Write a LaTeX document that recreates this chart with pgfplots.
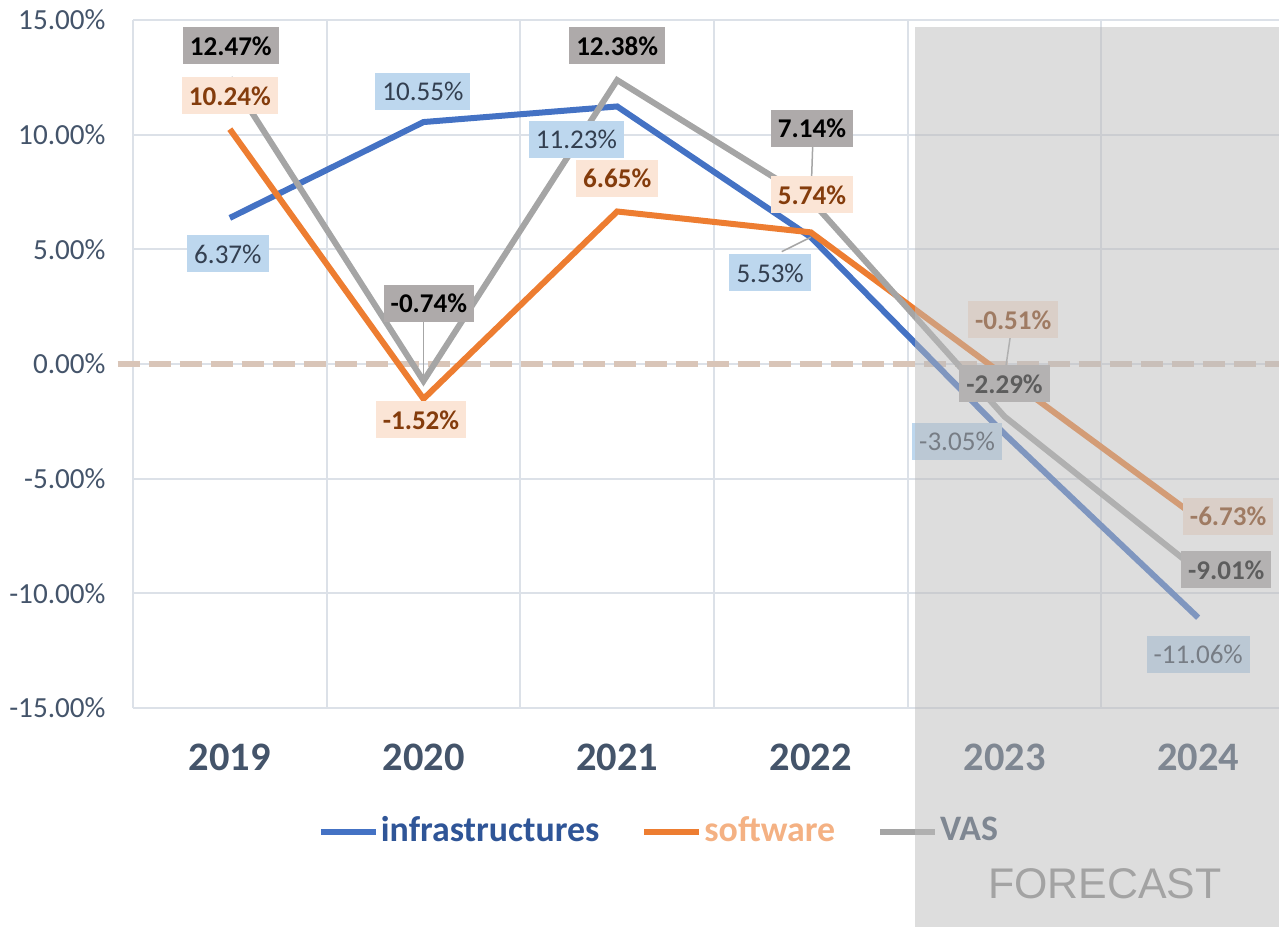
\documentclass[border=0pt]{standalone}
\usepackage{pgfplots}
\pgfplotsset{compat=1.18}
\usepackage{fontspec}
\setmainfont{Carlito}
\newfontfamily\arialfont{Liberation Sans}

\definecolor{infra}{HTML}{4472C4}
\definecolor{soft}{HTML}{ED7D31}
\definecolor{vas}{HTML}{A5A5A5}
\definecolor{gridc}{HTML}{DCE1E8}
\definecolor{zeroc}{HTML}{D9C5B8}
\definecolor{tickc}{HTML}{44546A}
\definecolor{infraL}{HTML}{BDD7EE}
\definecolor{infraT}{HTML}{333F50}
\definecolor{softL}{HTML}{FBE5D6}
\definecolor{softT}{HTML}{843C0C}
\definecolor{vasL}{HTML}{AEAAAA}
\definecolor{legI}{HTML}{2F5597}
\definecolor{legS}{HTML}{F4B183}
\definecolor{fcast}{HTML}{BBBBBB}
\definecolor{fctext}{HTML}{A3A3A3}

\tikzset{
  lab/.style={inner xsep=0.07cm, inner ysep=0pt, minimum height=0.37cm,
    font=\fontsize{7.7}{8}\selectfont},
  labI/.style={lab, fill=infraL, text=infraT},
  labS/.style={lab, fill=softL, text=softT, font=\bfseries\fontsize{7.7}{8}\selectfont},
  labV/.style={lab, fill=vasL, text=black, font=\bfseries\fontsize{7.7}{8}\selectfont},
  lead/.style={draw=black!35, line width=0.015cm}
}

\begin{document}
\begin{tikzpicture}
\useasboundingbox (0,0) rectangle (12.79,9.26);
\begin{axis}[
  at={(1.33cm,2.18cm)}, anchor=south west,
  scale only axis, width=11.62cm, height=6.88cm,
  xmin=-0.5, xmax=5.5, ymin=-15, ymax=15,
  clip=false,
  axis line style={draw=none},
  major tick length=0pt, minor tick length=0pt,
  xtick={0,1,2,3,4,5},
  xticklabels={2019,2020,2021,2022,2023,2024},
  minor xtick={-0.5,0.5,1.5,2.5,3.5,4.5,5.5},
  ytick={-15,-10,-5,0,5,10,15},
  yticklabels={-15.00\%,-10.00\%,-5.00\%,0.00\%,5.00\%,10.00\%,15.00\%},
  xmajorgrids=false, xminorgrids=true, ymajorgrids=true,
  major grid style={draw=gridc, line width=0.02cm},
  minor grid style={draw=gridc, line width=0.02cm},
  xticklabel style={font=\bfseries\fontsize{11.5}{12}\selectfont, text=tickc, yshift=-0.24cm},
  yticklabel style={font=\fontsize{8.3}{9}\selectfont, text=tickc, xshift=-0.15cm},
  legend style={at={(0.4527,-0.180)}, anchor=center, draw=none, fill=none,
    legend columns=-1, font=\bfseries\fontsize{10.2}{12}\selectfont,
    nodes={inner sep=0.02cm},
    /tikz/every even column/.append style={column sep=0.4cm}},
  legend image code/.code={\draw[#1] (0cm,0cm) -- (0.55cm,0cm);},
]
\draw[zeroc, line width=0.06cm, dash pattern=on 0.22cm off 0.09cm]
  (axis cs:-0.58,0) -- (axis cs:5.6,0);

\addplot[infra, line width=0.06cm] coordinates {(0,6.37) (1,10.55) (2,11.23) (3,5.53) (4,-3.05) (5,-11.06)};
\addplot[soft, line width=0.06cm] coordinates {(0,10.24) (1,-1.52) (2,6.65) (3,5.74) (4,-0.51) (5,-6.73)};
\addplot[vas, line width=0.06cm] coordinates {(0,12.47) (1,-0.74) (2,12.38) (3,7.14) (4,-2.29) (5,-9.01)};
\legend{\textcolor{legI}{infrastructures}, \textcolor{legS}{software}, \textcolor{tickc}{VAS}}

% leader lines
\draw[lead] (axis cs:1.0,1.9) -- (axis cs:1.0,-0.74);
\draw[lead] (axis cs:3.01,9.6) -- (axis cs:3.0,7.14);
\draw[lead] (axis cs:2.85,4.9) -- (axis cs:3.0,5.53);
\draw[lead] (axis cs:4.03,1.2) -- (axis cs:4.0,-0.51);

% infrastructures labels
\node[labI] at (axis cs:-0.01,4.80) {6.37\%};
\node[labI] at (axis cs:0.997,11.9) {10.55\%};
\node[labI] at (axis cs:1.79,9.81) {11.23\%};
\node[labI] at (axis cs:2.79,3.97) {5.53\%};
\node[labI] at (axis cs:3.755,-3.36) {-3.05\%};
\node[labI] at (axis cs:5.0,-12.65) {-11.06\%};
% software labels
\node[labS] at (axis cs:0,11.69) {10.24\%};
\node[labS] at (axis cs:0.987,-2.44) {-1.52\%};
\node[labS] at (axis cs:2.0,8.11) {6.65\%};
\node[labS] at (axis cs:3.006,7.37) {5.74\%};
\node[labS] at (axis cs:4.045,1.92) {-0.51\%};
\node[labS] at (axis cs:5.155,-6.63) {-6.73\%};
% VAS labels
\node[labV] at (axis cs:0.005,13.87) {12.47\%};
\node[labV] at (axis cs:1.028,2.66) {-0.74\%};
\node[labV] at (axis cs:2.0,13.87) {12.38\%};
\node[labV] at (axis cs:3.006,10.29) {7.14\%};
\node[labV] at (axis cs:4.0,-0.87) {-2.29\%};
\node[labV] at (axis cs:5.145,-8.98) {-9.01\%};
\end{axis}

% forecast shading over the last two years
\fill[fcast, opacity=0.5] (9.15,-0.1) rectangle (12.9,8.99);
\node[font=\arialfont\fontsize{12.2}{14}\selectfont, text=fctext] at (11.05,0.42) {FORECAST};
\end{tikzpicture}
\end{document}
